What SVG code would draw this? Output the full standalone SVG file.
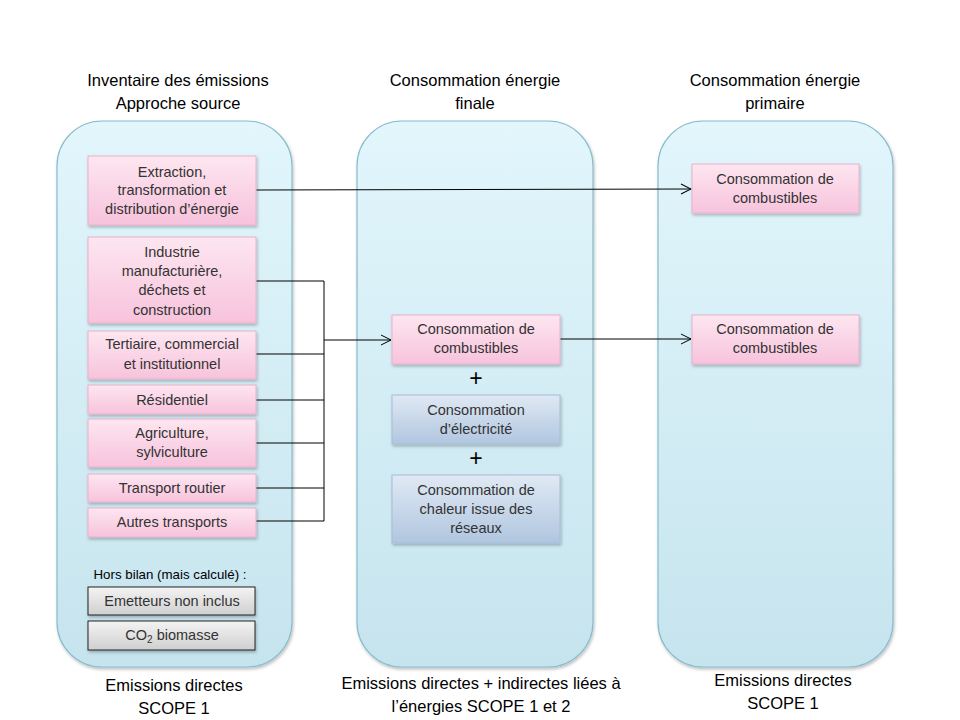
<svg xmlns="http://www.w3.org/2000/svg" width="960" height="720" viewBox="0 0 960 720">
<defs>
  <linearGradient id="gCont" x1="0" y1="0" x2="0" y2="1">
    <stop offset="0" stop-color="#e2f6fc"/>
    <stop offset="1" stop-color="#c6e4ee"/>
  </linearGradient>
  <linearGradient id="gPink" x1="0" y1="0" x2="0" y2="1">
    <stop offset="0" stop-color="#fde6f0"/>
    <stop offset="1" stop-color="#f7c3dc"/>
  </linearGradient>
  <linearGradient id="gBlue" x1="0" y1="0" x2="0" y2="1">
    <stop offset="0" stop-color="#e0e9f4"/>
    <stop offset="1" stop-color="#b0c6df"/>
  </linearGradient>
  <linearGradient id="gGray" x1="0" y1="0" x2="0" y2="1">
    <stop offset="0" stop-color="#f4f4f4"/>
    <stop offset="1" stop-color="#cfcfcf"/>
  </linearGradient>
  <filter id="sh" x="-10%" y="-10%" width="120%" height="130%">
    <feDropShadow dx="1" dy="2" stdDeviation="1.5" flood-color="#000" flood-opacity="0.25"/>
  </filter>
  <marker id="arr" markerWidth="12" markerHeight="12" refX="11" refY="6" orient="auto" markerUnits="userSpaceOnUse">
    <path d="M1,1 L11,6 L1,11" fill="none" stroke="#000" stroke-width="1"/>
  </marker>
</defs>
<style>
  .cont { fill: url(#gCont); stroke: #86bccd; stroke-width: 1.2; filter: url(#sh); }
  .pink { fill: url(#gPink); stroke: #eab0cb; stroke-width: 1; filter: url(#sh); }
  .blue { fill: url(#gBlue); stroke: #a5bcd8; stroke-width: 1; filter: url(#sh); }
  .gray { fill: url(#gGray); stroke: #222; stroke-width: 1; filter: url(#sh); }
  .t { font-family: "Liberation Sans", Arial, sans-serif; font-size: 14.5px; fill: #333; text-anchor: middle; }
  .h { font-family: "Liberation Sans", Arial, sans-serif; font-size: 16.5px; fill: #000; text-anchor: middle; }
  .plus { font-family: "Liberation Sans", Arial, sans-serif; font-size: 23px; fill: #000; text-anchor: middle; }
  .ln { fill: none; stroke: #000; stroke-width: 1; }
</style>
<rect width="960" height="720" fill="#fff"/>

<g id="headers">
  <text class="h" x="178" y="86">Inventaire des émissions</text>
  <text class="h" x="178" y="109">Approche source</text>
  <text class="h" x="475" y="86">Consommation énergie</text>
  <text class="h" x="475" y="109">finale</text>
  <text class="h" x="775" y="86">Consommation énergie</text>
  <text class="h" x="775" y="109">primaire</text>
</g>

<g id="container-left"><rect class="cont" x="57" y="121" width="235" height="546" rx="45" ry="45"/></g>
<g id="container-middle"><rect class="cont" x="357" y="121" width="236" height="546" rx="45" ry="45"/></g>
<g id="container-right"><rect class="cont" x="658" y="121" width="235" height="546" rx="45" ry="45"/></g>

<g id="connectors">
  <line class="ln" x1="256" y1="190" x2="691" y2="189" marker-end="url(#arr)"/>
  <polyline class="ln" points="256,281 324,281 324,521 256,521"/>
  <line class="ln" x1="256" y1="354" x2="324" y2="354"/>
  <line class="ln" x1="256" y1="400" x2="324" y2="400"/>
  <line class="ln" x1="256" y1="443" x2="324" y2="443"/>
  <line class="ln" x1="256" y1="488" x2="324" y2="488"/>
  <line class="ln" x1="324" y1="340" x2="391" y2="340" marker-end="url(#arr)"/>
  <line class="ln" x1="560" y1="339" x2="691" y2="339" marker-end="url(#arr)"/>
</g>

<g id="n-extraction">
  <rect class="pink" x="88" y="156" width="168" height="69"/>
  <text class="t" x="172" y="177">Extraction,</text>
  <text class="t" x="172" y="195">transformation et</text>
  <text class="t" x="172" y="214">distribution d’énergie</text>
</g>
<g id="n-industrie">
  <rect class="pink" x="88" y="237" width="168" height="86"/>
  <text class="t" x="172" y="257">Industrie</text>
  <text class="t" x="172" y="276">manufacturière,</text>
  <text class="t" x="172" y="295">déchets et</text>
  <text class="t" x="172" y="315">construction</text>
</g>
<g id="n-tertiaire">
  <rect class="pink" x="88" y="331" width="168" height="48"/>
  <text class="t" x="172" y="349">Tertiaire, commercial</text>
  <text class="t" x="172" y="369">et institutionnel</text>
</g>
<g id="n-residentiel">
  <rect class="pink" x="88" y="385" width="168" height="29"/>
  <text class="t" x="172" y="405">Résidentiel</text>
</g>
<g id="n-agriculture">
  <rect class="pink" x="88" y="419" width="168" height="48"/>
  <text class="t" x="172" y="438">Agriculture,</text>
  <text class="t" x="172" y="457">sylviculture</text>
</g>
<g id="n-transport-routier">
  <rect class="pink" x="88" y="474" width="168" height="28"/>
  <text class="t" x="172" y="493">Transport routier</text>
</g>
<g id="n-autres-transports">
  <rect class="pink" x="88" y="508" width="168" height="29"/>
  <text class="t" x="172" y="527">Autres transports</text>
</g>

<g id="hors-bilan">
  <text class="t" x="170" y="579" style="font-size:13.3px;fill:#000">Hors bilan (mais calculé) :</text>
</g>
<g id="n-emetteurs">
  <rect class="gray" x="88" y="587" width="167" height="28"/>
  <text class="t" x="172" y="606">Emetteurs non inclus</text>
</g>
<g id="n-co2">
  <rect class="gray" x="88" y="621" width="167" height="29"/>
  <text class="t" x="172" y="640">CO<tspan font-size="10" dy="3">2</tspan><tspan dy="-3"> biomasse</tspan></text>
</g>

<g id="n-mid-combustibles">
  <rect class="pink" x="392" y="315" width="168" height="49"/>
  <text class="t" x="476" y="334">Consommation de</text>
  <text class="t" x="476" y="353">combustibles</text>
</g>
<g id="plus1"><text class="plus" x="476" y="386">+</text></g>
<g id="n-electricite">
  <rect class="blue" x="392" y="395" width="168" height="49"/>
  <text class="t" x="476" y="415">Consommation</text>
  <text class="t" x="476" y="434">d’électricité</text>
</g>
<g id="plus2"><text class="plus" x="476" y="466">+</text></g>
<g id="n-chaleur">
  <rect class="blue" x="392" y="475" width="168" height="68"/>
  <text class="t" x="476" y="495">Consommation de</text>
  <text class="t" x="476" y="514">chaleur issue des</text>
  <text class="t" x="476" y="533">réseaux</text>
</g>

<g id="n-right-combustibles-1">
  <rect class="pink" x="692" y="164" width="167" height="49"/>
  <text class="t" x="775" y="184">Consommation de</text>
  <text class="t" x="775" y="203">combustibles</text>
</g>
<g id="n-right-combustibles-2">
  <rect class="pink" x="692" y="315" width="167" height="49"/>
  <text class="t" x="775" y="334">Consommation de</text>
  <text class="t" x="775" y="353">combustibles</text>
</g>

<g id="footers">
  <text class="h" x="174" y="691">Emissions directes</text>
  <text class="h" x="174" y="714">SCOPE 1</text>
  <text class="h" x="481" y="689">Emissions directes + indirectes liées à</text>
  <text class="h" x="481" y="712">l’énergies SCOPE 1 et 2</text>
  <text class="h" x="783" y="686">Emissions directes</text>
  <text class="h" x="783" y="709">SCOPE 1</text>
</g>
</svg>
